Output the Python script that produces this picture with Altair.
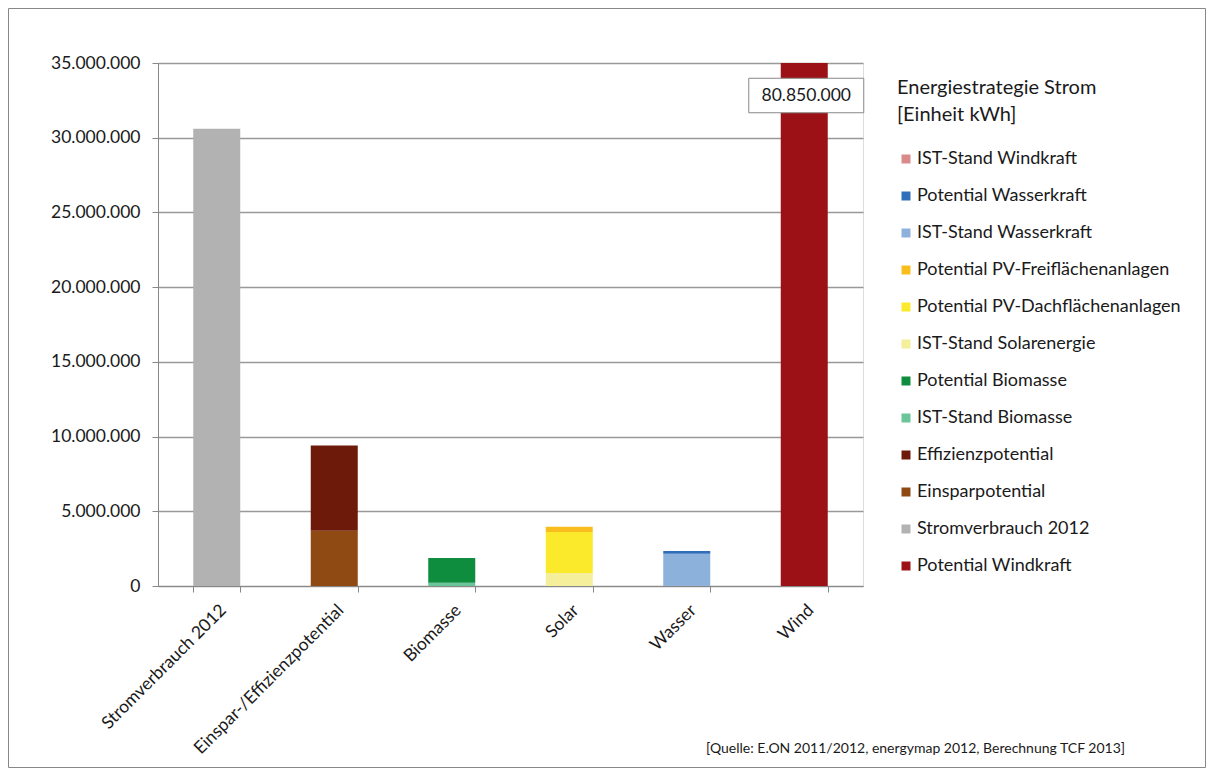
import altair as alt
import pandas as pd

categories = ["Stromverbrauch 2012", "Einspar-/Effizienzpotential", "Biomasse", "Solar", "Wasser", "Wind"]

# series in stacking order (bottom -> top)
series_names = [
    "Potential Windkraft", "Stromverbrauch 2012", "Einsparpotential", "Effizienzpotential",
    "IST-Stand Biomasse", "Potential Biomasse", "IST-Stand Solarenergie",
    "Potential PV-Dachflächenanlagen", "Potential PV-Freiflächenanlagen",
    "IST-Stand Wasserkraft", "Potential Wasserkraft", "IST-Stand Windkraft",
]
series_category = [
    "Wind", "Stromverbrauch 2012", "Einspar-/Effizienzpotential", "Einspar-/Effizienzpotential",
    "Biomasse", "Biomasse", "Solar", "Solar", "Solar", "Wasser", "Wasser", "Wind",
]
series_values = [
    80850000, 30600000, 3700000, 5700000,
    220000, 1650000, 870000, 2750000, 350000,
    2150000, 200000, 0,
]
series_colors = [
    "#9B1116", "#B2B2B2", "#8F4A14", "#6E1A0A",
    "#6CC49A", "#0E8D3F", "#F5EE9A", "#FBE92B", "#F9BE1E",
    "#8CB2DC", "#2F6EBA", "#D98A8A",
]
y_ticks = [0, 5000000, 10000000, 15000000, 20000000, 25000000, 30000000, 35000000]
source_text = "[Quelle: E.ON 2011/2012, energymap 2012,  Berechnung TCF 2013]"
legend_title = ["Energiestrategie Strom", "[Einheit kWh]"]

df = pd.DataFrame({
    "Kategorie": series_category,
    "Serie": series_names,
    "Wert": series_values,
    "Reihenfolge": list(range(len(series_names))),
})

legend_order = list(reversed(series_names))
legend_colors = list(reversed(series_colors))

W, H = 705, 523
PL, PT, PR, PB = 150, 55, 343, 182
FONT = "Lato"
TXT = "#1a1a1a"

bars = alt.Chart(df).mark_bar(clip=True).encode(
    x=alt.X("Kategorie:N", sort=categories,
            scale=alt.Scale(paddingInner=0.6, paddingOuter=0.3),
            axis=alt.Axis(title=None, labelAngle=-45, labelFontSize=17.5, labelFont=FONT,
                          labelColor=TXT, tickBand="extent", tickSize=6,
                          tickColor="#888", domainColor="#888", labelPadding=9,
                          labelLimit=400)),
    y=alt.Y("sum(Wert):Q", stack="zero",
            scale=alt.Scale(domain=[0, 35000000], nice=False),
            axis=alt.Axis(title=None, values=y_ticks, format=",d", labelFontSize=17.5,
                          labelFont=FONT, labelColor=TXT, tickSize=6,
                          tickColor="#888", domainColor="#888", labelPadding=12,
                          grid=True, gridColor="#999", gridWidth=1.5)),
    color=alt.Color("Serie:N",
                    scale=alt.Scale(domain=legend_order, range=legend_colors),
                    legend=alt.Legend(title=legend_title, orient="none", legendX=739, legendY=15,
                                      titleFontSize=20, titleFont=FONT, titleFontWeight="normal",
                                      titleLineHeight=27, titleColor=TXT, titlePadding=25,
                                      titleLimit=500,
                                      labelFontSize=18, labelFont=FONT, labelColor=TXT,
                                      symbolType="square", symbolSize=81, symbolStrokeWidth=0,
                                      rowPadding=19, labelOffset=2, labelLimit=400)),
    order=alt.Order("Reihenfolge:Q", sort="ascending"),
)

label_base = alt.Chart(df).transform_filter(
    alt.datum.Serie == "Potential Windkraft"
).transform_calculate(
    Label="format(datum.Wert, ',d')"
)

label_box = label_base.mark_point(
    shape="M-1,-0.3 L1,-0.3 L1,0.3 L-1,0.3 Z", size=13225, filled=True,
    fill="white", stroke="#888", strokeWidth=1, opacity=1, xOffset=2,
).encode(
    x=alt.X("Kategorie:N", sort=categories),
    y=alt.value(32.5),
)

label_text = label_base.mark_text(font=FONT, fontSize=17.5, color=TXT, baseline="middle",
                                  dx=2).encode(
    x=alt.X("Kategorie:N", sort=categories),
    y=alt.value(33),
    text="Label:N",
)

source = alt.Chart(pd.DataFrame({"t": [source_text]})).mark_text(
    font=FONT, fontSize=14, color=TXT, align="left", baseline="middle"
).encode(x=alt.value(548), y=alt.value(686), text="t:N")

frame = alt.Chart(pd.DataFrame({"f": [1]})).mark_rect(
    fill=None, stroke="#888", strokeWidth=1
).encode(
    x=alt.value(-PL + 0.5), x2=alt.value(W + PR - 0.5),
    y=alt.value(-PT + 0.5), y2=alt.value(H + PB - 0.5),
)

chart = alt.layer(frame, bars, label_box, label_text, source).properties(
    width=W, height=H,
    autosize=alt.AutoSizeParams(type="none"),
    padding={"left": PL, "top": PT, "right": PR, "bottom": PB},
).configure_view(stroke=None).configure(
    locale=alt.Locale(number=alt.NumberLocale(decimal=",", thousands=".", grouping=[3],
                                              currency=["", " €"]))
)

chart.save("out.html", embed_options={"renderer": "svg", "actions": False})
